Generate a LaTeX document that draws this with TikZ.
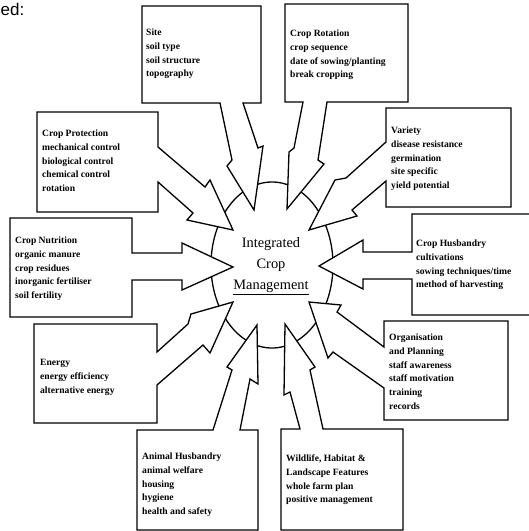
\documentclass[tikz,border=0pt]{standalone}
\usepackage{fontspec}
\setmainfont{Liberation Serif}
\newfontfamily\labelsans{Liberation Sans}
\usetikzlibrary{shapes.geometric}
\begin{document}
\begin{tikzpicture}[x=1pt,y=-1pt,
  outline/.style={draw=black, fill=white, line width=1.3pt, line join=miter},
  boxtext/.style={anchor=north west, inner sep=0pt, align=left,
    font=\fontsize{9.6}{13.9}\selectfont\bfseries},
  hub/.style={ellipse, draw=black, fill=white, line width=1.3pt,
    minimum width=122pt, minimum height=166pt, inner sep=0pt}]
\useasboundingbox (0,0) rectangle (529,531);

% central ellipse
\node[hub] (hub) at (272,265) {};

% box + arrow outlines
% Site
\draw[outline] (142,6) -- (261,6) -- (261,103) -- (243,103) -- (258,148) -- (263,146)
  -- (254,210) -- (227,166) -- (232,160) -- (220,103) -- (142,103) -- cycle;
% Crop Rotation
\draw[outline] (285,4) -- (408,4) -- (408,102) -- (327,102) -- (318,160) -- (324,164)
  -- (287,209) -- (289,152) -- (294,148) -- (303,102) -- (285,102) -- cycle;
% Variety
\draw[outline] (386,108) -- (511,108) -- (511,207) -- (386,207) -- (386,181) -- (352,210)
  -- (357,216) -- (309,230) -- (335,180) -- (346,178) -- (386,142) -- cycle;
% Crop Husbandry
\draw[outline] (412,214) -- (540,214) -- (540,315) -- (412,315) -- (412,279) -- (363,279)
  -- (363,289) -- (319,266) -- (363,240) -- (363,252) -- (412,252) -- cycle;
% Organisation
\draw[outline] (384,321) -- (508,321) -- (508,420) -- (384,420) -- (384,388) -- (333,352)
  -- (328,358) -- (309,302) -- (341,305) -- (337,312) -- (384,347) -- cycle;
% Wildlife
\draw[outline] (281,429) -- (300,429) -- (290,392) -- (284,395) -- (285,324) -- (315,367)
  -- (310,370) -- (323,429) -- (403,429) -- (403,530) -- (281,530) -- cycle;
% Animal Husbandry
\draw[outline] (137,430) -- (213,430) -- (232,370) -- (227,367) -- (257,325) -- (258,384)
  -- (250,379) -- (240,430) -- (258,430) -- (258,530) -- (137,530) -- cycle;
% Energy
\draw[outline] (34,324) -- (157,324) -- (157,352) -- (188,324) -- (191,314) -- (233,302)
  -- (210,353) -- (203,345) -- (157,385) -- (157,423) -- (34,423) -- cycle;
% Crop Nutrition
\draw[outline] (10,218) -- (132,218) -- (132,253) -- (182,253) -- (182,243) -- (233,267)
  -- (182,290) -- (182,280) -- (132,280) -- (132,317) -- (10,317) -- cycle;
% Crop Protection
\draw[outline] (37,112) -- (158,112) -- (158,147) -- (205,187) -- (210,180) -- (233,230)
  -- (187,220) -- (193,213) -- (158,182) -- (158,212) -- (37,212) -- cycle;

% centre text
\node[align=center, inner sep=0pt, font=\fontsize{14.4}{21}\selectfont] (icm) at (271,266)
  {Integrated\\Crop\\\underline{Management}};

% box texts (first baseline minus strut height)
\node[boxtext] (tsite) at (146,25.3) {\strut Site\\soil type\\soil structure\\topography};
\node[boxtext] (trot) at (290,26.3) {\strut Crop Rotation\\crop sequence\\date of sowing/planting\\break cropping};
\node[boxtext] (tvar) at (391,123.3) {\strut Variety\\disease resistance\\germination\\site specific\\yield potential};
\node[boxtext] (thus) at (416,236.3) {\strut Crop Husbandry\\cultivations\\sowing techniques/time\\method of harvesting};
\node[boxtext] (torg) at (389,330.3) {\strut Organisation\\and Planning\\staff awareness\\staff motivation\\training\\records};
\node[boxtext] (twild) at (286,451.3) {\strut Wildlife, Habitat \&\\Landscape Features\\whole farm plan\\positive management};
\node[boxtext] (tanim) at (142,449.3) {\strut Animal Husbandry\\animal welfare\\housing\\hygiene\\health and safety};
\node[boxtext] (tener) at (40,355.3) {\strut Energy\\energy efficiency\\alternative energy};
\node[boxtext] (tnut) at (15,233.3) {\strut Crop Nutrition\\organic manure\\crop residues\\inorganic fertiliser\\soil fertility};
\node[boxtext] (tprot) at (42,126.3) {\strut Crop Protection\\mechanical control\\biological control\\chemical control\\rotation};

% fragment of surrounding text
\node[anchor=base west, inner sep=0pt, font=\labelsans\fontsize{17}{17}\selectfont] (ed) at (0.5,15) {ed:};
\end{tikzpicture}
\end{document}
